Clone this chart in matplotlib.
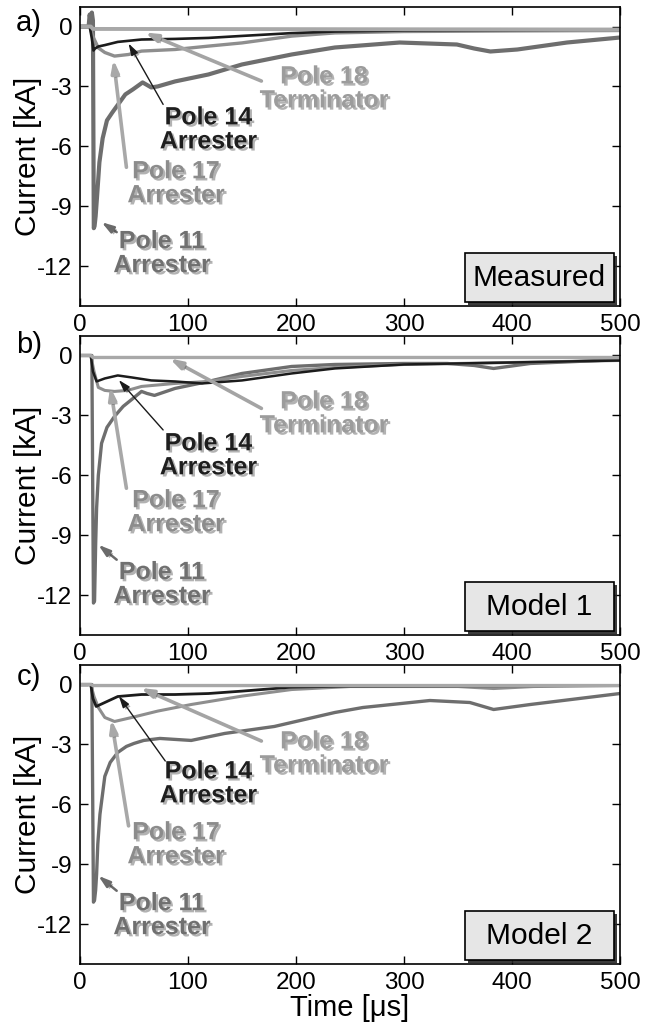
import matplotlib
matplotlib.use("Agg")
import matplotlib.pyplot as plt
import matplotlib.patheffects as pe
from matplotlib.patches import Rectangle

plt.rcParams['font.family'] = ['Liberation Sans', 'DejaVu Sans']
plt.rcParams['axes.unicode_minus'] = False

# ---- data (time in us, current in kA) ----
# a) measured
t_a11 = [0, 8, 9, 10, 11, 12, 12.8, 13.5, 14.5, 15.7, 18, 21, 25, 30, 34, 42, 49, 58, 66, 72, 88,
         119, 150, 196, 236, 296, 349, 365, 380, 405, 451, 500]
i_a11 = [0, 0, 0.6, 0.2, 0.7, 0.3, -10.1, -10.0, -9.5, -8.6, -6.8, -5.6, -4.7, -4.3, -4.0, -3.4,
         -3.15, -2.8, -3.05, -3.0, -2.75, -2.4, -1.9, -1.4, -1.05, -0.8, -0.9, -1.1, -1.25, -1.15,
         -0.8, -0.55]
t_a14 = [0, 9, 11, 12.5, 14, 17, 23, 35, 57, 88, 119, 150, 196, 236, 300, 400, 500]
i_a14 = [0, 0, -0.6, -1.2, -1.1, -1.0, -0.93, -0.77, -0.65, -0.62, -0.57, -0.47, -0.33, -0.25,
         -0.2, -0.18, -0.15]
t_a17 = [0, 9, 12, 17, 23, 32, 45, 57, 88, 119, 150, 196, 236, 300, 400, 500]
i_a17 = [0, 0, -0.5, -1.07, -1.3, -1.48, -1.4, -1.23, -1.15, -0.98, -0.82, -0.48, -0.32, -0.25,
         -0.22, -0.2]
t_a18 = [0, 10, 12, 500]
i_a18 = [0, 0, -0.12, -0.15]

# b) model 1
t_b11 = [0, 11, 12.5, 13.5, 14.5, 15.4, 17, 20, 25, 32, 40, 48, 57, 62, 69, 88, 119, 150, 196,
         236, 300, 340, 365, 383, 417, 460, 500]
i_b11 = [0, 0, -12.4, -12.3, -9.5, -7.65, -6.0, -4.4, -3.6, -3.05, -2.55, -2.2, -1.8, -1.9, -2.0,
         -1.65, -1.3, -0.9, -0.55, -0.45, -0.4, -0.4, -0.5, -0.65, -0.4, -0.3, -0.2]
t_b14 = [0, 10, 12, 15.4, 23, 35, 48, 66, 88, 113, 150, 196, 236, 300, 400, 500]
i_b14 = [0, 0, -0.8, -1.3, -1.15, -1.0, -1.1, -1.25, -1.3, -1.4, -1.25, -0.9, -0.65, -0.45,
         -0.35, -0.25]
t_b17 = [0, 10, 13, 17, 23, 32, 44, 57, 88, 119, 150, 196, 236, 300, 400, 500]
i_b17 = [0, 0, -0.8, -1.6, -1.75, -1.8, -1.75, -1.55, -1.4, -1.3, -1.05, -0.75, -0.6, -0.45,
         -0.35, -0.25]
t_b18 = [0, 10, 12, 500]
i_b18 = [0, 0, -0.1, -0.1]

# c) model 2
t_c11 = [0, 11, 12.5, 13.5, 14.5, 15.4, 16.5, 18.5, 23, 28, 35, 43, 50, 59, 74, 103, 134, 180,
         236, 262, 324, 361, 383, 417, 500]
i_c11 = [0, 0, -10.9, -10.8, -10.3, -9.5, -8.0, -6.5, -4.6, -3.9, -3.4, -3.1, -2.95, -2.8, -2.7,
         -2.8, -2.45, -2.1, -1.4, -1.15, -0.8, -0.9, -1.25, -1.0, -0.45]
t_c14 = [0, 10, 12, 15, 23, 35, 57, 88, 119, 150, 196, 250, 500]
i_c14 = [0, 0, -0.7, -1.1, -0.9, -0.6, -0.5, -0.5, -0.45, -0.33, -0.13, -0.08, -0.05]
t_c17 = [0, 10, 13, 17, 23, 32, 48, 72, 103, 150, 196, 250, 350, 383, 420, 500]
i_c17 = [0, 0, -0.6, -1.15, -1.65, -1.85, -1.65, -1.33, -1.0, -0.58, -0.25, -0.1, -0.1, -0.2,
         -0.1, -0.05]
t_c18 = [0, 10, 12, 500]
i_c18 = [0, 0, -0.05, -0.05]

panel_tags = ['a)', 'b)', 'c)']
box_names = ['Measured', 'Model 1', 'Model 2']
xticks = [0, 100, 200, 300, 400, 500]
yticks = [0, -3, -6, -9, -12]

# annotation text centres and arrows (tail -> head) for poles 18, 14, 17, 11
names = ['Pole 18\nTerminator', 'Pole 14\nArrester', 'Pole 17\nArrester', 'Pole 11\nArrester']
text_xy = [
    [(226, -3.1), (119, -5.15), (89, -7.85), (76, -11.35)],
    [(226, -2.9), (119, -5.0), (89, -7.85), (76, -11.45)],
    [(226, -3.45), (119, -4.95), (89, -8.0), (76, -11.55)],
]
arrow_tail = [
    [(168, -2.73), (77, -3.9), (43, -7.05), (34, -10.3)],
    [(168, -2.65), (77, -3.73), (43, -6.65), (34, -10.23)],
    [(168, -2.83), (79, -3.83), (45, -7.08), (34, -10.33)],
]
arrow_head = [
    [(60, -0.3), (45, -0.85), (31, -1.65), (20, -9.8)],
    [(83, -0.15), (36, -1.23), (28, -1.57), (17, -9.48)],
    [(56, -0.17), (36, -0.58), (29, -1.75), (17, -9.58)],
]

text_col = ['#9c9c9c', '#1e1e1e', '#8c8c8c', '#707070']
arrow_col = ['#a4a4a4', '#1a1a1a', '#a8a8a8', '#6a6a6a']
arrow_lw = [2.6, 1.0, 2.6, 1.8]

series = [
    [(t_a11, i_a11), (t_a17, i_a17), (t_a14, i_a14), (t_a18, i_a18)],
    [(t_b11, i_b11), (t_b17, i_b17), (t_b14, i_b14), (t_b18, i_b18)],
    [(t_c11, i_c11), (t_c17, i_c17), (t_c14, i_c14), (t_c18, i_c18)],
]
line_col = ['#6e6e6e', '#8e8e8e', '#1c1c1c', '#a8a8a8']
line_lw = [[3.0, 2.4, 1.9, 2.8], [2.4, 2.2, 1.8, 2.4], [2.4, 2.2, 2.0, 2.4]]

fig = plt.figure(figsize=(6.47, 10.27), dpi=100)
bottoms = [0.7020, 0.3817, 0.0613]
tag_y = [0.9776, 0.6641, 0.3408]

shadow = [pe.withSimplePatchShadow(offset=(1.6, -1.6), shadow_rgbFace='0.25', alpha=0.4)]

for k in range(3):
    ax = fig.add_axes([0.1236, bottoms[k], 0.8346, 0.2916])
    for j, (t, i) in enumerate(series[k]):
        ax.plot(t, i, color=line_col[j], lw=line_lw[k][j], solid_joinstyle='round')

    for j in range(4):
        ax.annotate('', xy=arrow_head[k][j], xytext=arrow_tail[k][j],
                    arrowprops=dict(arrowstyle='-|>,head_length=0.7,head_width=0.22',
                                    color=arrow_col[j], lw=arrow_lw[j],
                                    shrinkA=0, shrinkB=0, path_effects=shadow))
        ax.text(text_xy[k][j][0], text_xy[k][j][1], names[j], color=text_col[j],
                fontsize=18, fontweight='bold', ha='center', va='center',
                multialignment='center', linespacing=1.0, path_effects=shadow)

    box = Rectangle((0.713, 0.013), 0.276, 0.163, transform=ax.transAxes,
                    facecolor='#e6e6e6', edgecolor='black', lw=1.2, zorder=5,
                    path_effects=[pe.withSimplePatchShadow(offset=(2, -2),
                                                           shadow_rgbFace='0.15', alpha=0.9)])
    ax.add_patch(box)
    ax.text(0.851, 0.0945, box_names[k], transform=ax.transAxes, fontsize=21.5,
            ha='center', va='center', zorder=6)

    ax.set_xlim(0, 500)
    ax.set_ylim(-14, 1)
    ax.set_xticks(xticks)
    ax.set_xticklabels([str(v) for v in xticks])
    ax.set_yticks(yticks)
    ax.set_yticklabels([str(v) for v in yticks])
    ax.tick_params(direction='in', top=True, right=True, length=6, width=1,
                   labelsize=17.5, pad=5.5)
    for s in ax.spines.values():
        s.set_linewidth(1.2)
    ax.set_ylabel('Current [kA]', fontsize=21.5)
    ax.yaxis.set_label_coords(-0.07, 0.5)
    fig.text(0.0448, tag_y[k], panel_tags[k], fontsize=21, ha='center', va='center')

ax.set_xlabel('Time [μs]', fontsize=21)
ax.xaxis.set_label_coords(0.5, -0.1)

fig.savefig('out.png', dpi=100)
